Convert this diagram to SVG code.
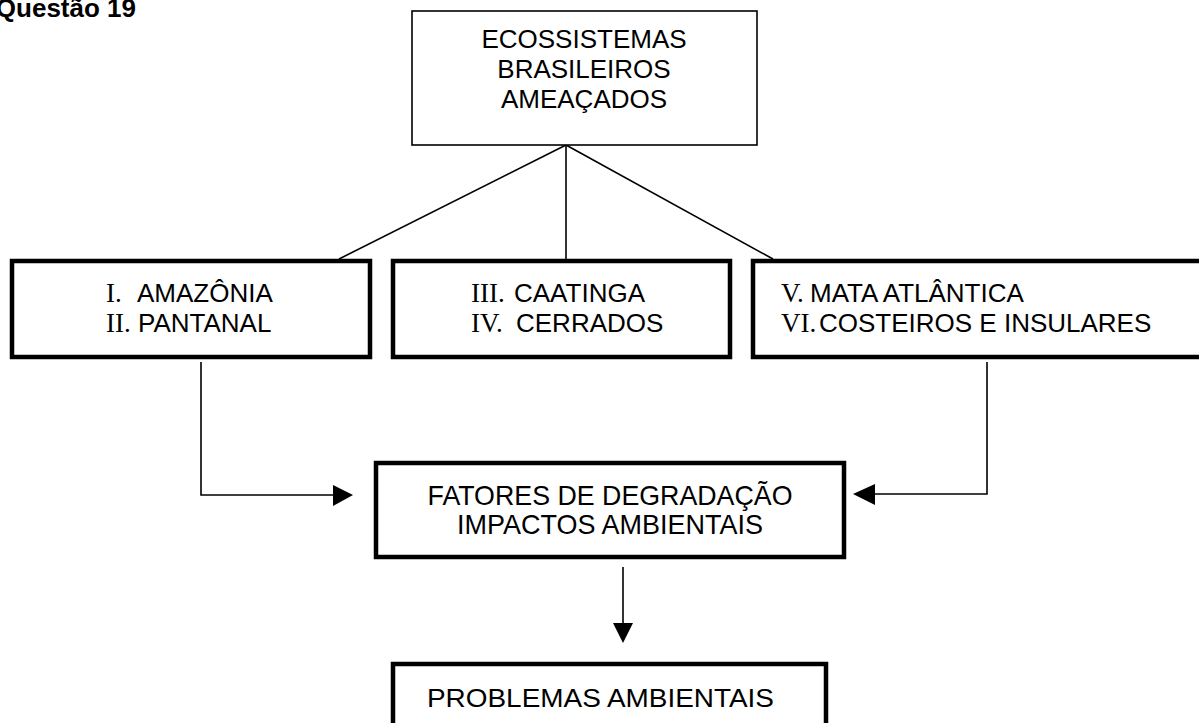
<svg xmlns="http://www.w3.org/2000/svg" width="1199" height="723" viewBox="0 0 1199 723">
<style>
.t{font-family:"Liberation Sans",Arial,sans-serif;font-size:26px;fill:#000}
.r{font-family:"Liberation Serif","Times New Roman",serif;font-size:27px}
.thin{fill:#fff;stroke:#000;stroke-width:1.6}
.thick{fill:#fff;stroke:#000;stroke-width:4.5}
.ln{fill:none;stroke:#000;stroke-width:1.6}
</style>
<rect width="1199" height="723" fill="#fff"/>
<text id="title" x="136" y="17" text-anchor="end" style="font-family:'Liberation Sans',Arial,sans-serif;font-size:26px;font-weight:bold">Questão 19</text>
<g id="connectors">
<line class="ln" x1="566" y1="145" x2="339" y2="259"/>
<line class="ln" x1="566" y1="145" x2="566" y2="259"/>
<line class="ln" x1="566" y1="145" x2="773" y2="259"/>
<polyline class="ln" points="201,362 201,495 334,495"/>
<polygon points="333,485 353,495 333,506" fill="#000"/>
<polyline class="ln" points="987,362 987,494 874,494"/>
<polygon points="875,484 853,494 875,505" fill="#000"/>
<line class="ln" x1="623" y1="567" x2="623" y2="624"/>
<polygon points="613,623 633,623 623,643" fill="#000"/>
</g>
<g id="n-top">
<rect class="thin" x="412" y="11" width="345" height="134"/>
<text class="t" text-anchor="middle"><tspan x="584" y="48">ECOSSISTEMAS</tspan><tspan x="584" y="78">BRASILEIROS</tspan><tspan x="584" y="108">AMEAÇADOS</tspan></text>
</g>
<g id="n-1">
<rect class="thick" x="12" y="261" width="358" height="96"/>
<text class="t" y="302"><tspan class="r" x="106">I.</tspan><tspan x="137">AMAZÔNIA</tspan></text>
<text class="t" y="332"><tspan class="r" x="106">II.</tspan><tspan x="138">PANTANAL</tspan></text>
</g>
<g id="n-2">
<rect class="thick" x="393" y="261" width="337" height="96"/>
<text class="t" y="302"><tspan class="r" x="471">III.</tspan><tspan x="514">CAATINGA</tspan></text>
<text class="t" y="332"><tspan class="r" x="471">IV.</tspan><tspan x="516">CERRADOS</tspan></text>
</g>
<g id="n-3">
<rect class="thick" x="753" y="261" width="460" height="96"/>
<text class="t" y="302"><tspan class="r" x="781">V.</tspan><tspan x="810">MATA ATLÂNTICA</tspan></text>
<text class="t" y="332"><tspan class="r" x="781">VI.</tspan><tspan x="819">COSTEIROS E INSULARES</tspan></text>
</g>
<g id="n-fatores">
<rect class="thick" x="376" y="463" width="468" height="94"/>
<text class="t" text-anchor="middle" style="font-size:28px"><tspan x="610" y="505" textLength="365" lengthAdjust="spacingAndGlyphs">FATORES DE DEGRADAÇÃO</tspan><tspan x="610" y="534" textLength="306" lengthAdjust="spacingAndGlyphs">IMPACTOS AMBIENTAIS</tspan></text>
</g>
<g id="n-problemas">
<rect class="thick" x="393" y="664" width="433" height="80"/>
<text class="t" x="427" y="707" textLength="347" lengthAdjust="spacingAndGlyphs">PROBLEMAS AMBIENTAIS</text>
</g>
</svg>
